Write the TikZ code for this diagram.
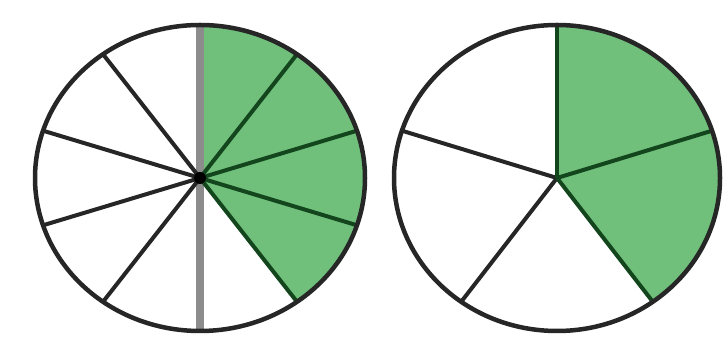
\documentclass[tikz,border=0pt]{standalone}
\usetikzlibrary{calc}
\definecolor{piegreen}{RGB}{112,192,124}
\definecolor{rimgray}{RGB}{38,38,38}
\definecolor{spokegreen}{RGB}{20,70,30}
\definecolor{midgray}{RGB}{140,140,140}
\tikzset{
  rim/.style={draw=rimgray, line width=4.5pt},
  spoke/.style={draw=rimgray, line width=4pt},
  gspoke/.style={draw=spokegreen, line width=4pt},
  sector/.style={fill=piegreen},
  axisline/.style={draw=midgray, line width=8pt}
}
\begin{document}
\begin{tikzpicture}[x=1pt,y=1pt]
\useasboundingbox (0,0) rectangle (728,358);
\fill[white] (0,0) rectangle (728,358);
% ---------- left pie: tenths ----------
\coordinate (L) at (200,180);
\def\rx{165}\def\ry{153}
\foreach \a in {90,54,18,-18}{
  \fill[sector] (L) -- ($(L)+({\rx*cos(\a)},{\ry*sin(\a)})$)
    arc[start angle=\a, end angle=\a-36, x radius=\rx, y radius=\ry] -- cycle;
}
\draw[axisline] ($(L)+(0,\ry)$) -- ($(L)+(0,-\ry)$);
\foreach \a in {126,162,198,234}{
  \draw[spoke] (L) -- ($(L)+({\rx*cos(\a)},{\ry*sin(\a)})$);
}
\foreach \a in {54,18,-18,-54}{
  \draw[gspoke] (L) -- ($(L)+({\rx*cos(\a)},{\ry*sin(\a)})$);
}
\fill[black] (L) circle (6);
\draw[rim] (L) ellipse[x radius=\rx, y radius=\ry];
% ---------- right pie: fifths ----------
\coordinate (R) at (557,180);
\def\rx{163}
\foreach \a in {90,18}{
  \fill[sector] (R) -- ($(R)+({\rx*cos(\a)},{\ry*sin(\a)})$)
    arc[start angle=\a, end angle=\a-72, x radius=\rx, y radius=\ry] -- cycle;
}
\foreach \a in {162,234}{
  \draw[spoke] (R) -- ($(R)+({\rx*cos(\a)},{\ry*sin(\a)})$);
}
\foreach \a in {90,18,-54}{
  \draw[gspoke] (R) -- ($(R)+({\rx*cos(\a)},{\ry*sin(\a)})$);
}
\draw[rim] (R) ellipse[x radius=\rx, y radius=\ry];
\end{tikzpicture}
\end{document}
